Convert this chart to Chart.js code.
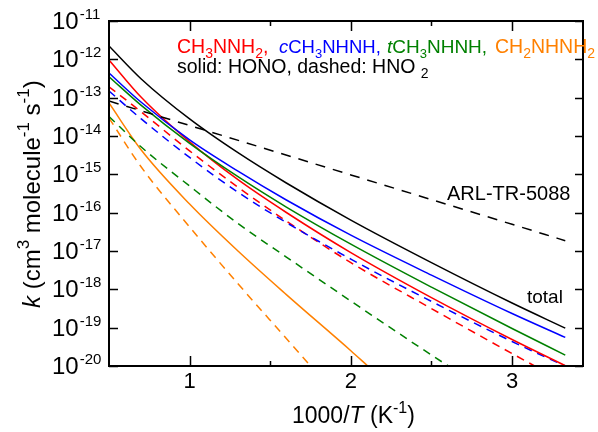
<!DOCTYPE html>
<html>
<head>
<meta charset="utf-8">
<script src="https://cdn.jsdelivr.net/npm/chart.js@4"></script>
<style>
  html, body { margin: 0; padding: 0; background: #fff; }
  canvas { display: block; }
</style>
</head>
<body>
<canvas id="chart" width="598" height="432"></canvas>
<script>
const FONT = '"Liberation Sans", Arial, Helvetica, sans-serif';
const RED = '#ff0000', BLUE = '#0000ff', GREEN = '#008000', ORANGE = '#ff8000';

// 1000/T (K^-1) grid the curves were read on
const xAll = [0.5, 0.7, 1.0, 1.3, 1.6, 2.0, 2.5, 3.0, 3.33];

// k (cm3 molecule-1 s-1), solid = HONO channel
const totalK = [2.23e-12, 3.08e-13, 2.79e-14, 3.66e-15, 5.94e-16, 6.40e-17, 4.98e-18, 4.40e-19, 9.73e-20];
const ch3nnh2Hono = [9.62e-13, 1.02e-13, 7.02e-15, 7.24e-16, 1.01e-16, 9.08e-18, 6.08e-19, 4.91e-20, 1.02e-20];
const cCh3nhnhHono = [4.40e-13, 7.57e-14, 7.91e-15, 1.21e-15, 2.14e-16, 2.59e-17, 2.35e-18, 2.34e-19, 5.56e-20];
const tCh3nhnhHono = [3.52e-13, 6.28e-14, 6.41e-15, 8.67e-16, 1.40e-16, 1.51e-17, 1.14e-18, 9.51e-20, 1.92e-20];

// dashed = HNO2 channel
const xRedDash = [0.5, 0.7, 1.0, 1.3, 1.6, 2.0, 2.5, 3.0, 3.14];
const ch3nnh2Hno2 = [1.93e-13, 4.26e-14, 4.08e-15, 4.61e-16, 6.05e-17, 4.98e-18, 3.14e-19, 2.11e-20, 1.0e-20];
const cCh3nhnhHno2 = [1.49e-13, 2.79e-14, 2.76e-15, 3.41e-16, 5.53e-17, 6.14e-18, 4.84e-19, 4.35e-20, 1.0e-20];

const xGreenDash = [0.5, 0.7, 1.0, 1.3, 1.6, 2.0, 2.5, 2.605];
const tCh3nhnhHno2 = [3.23e-14, 5.16e-15, 4.95e-16, 5.21e-17, 6.97e-18, 4.95e-19, 1.93e-20, 1.0e-20];

const xOrange = [0.5, 0.7, 1.0, 1.3, 1.6, 2.0, 2.105];
const ch2nhnh2Hono = [7.26e-14, 4.31e-15, 1.68e-16, 9.98e-18, 7.28e-19, 2.50e-20, 1.0e-20];

const xOrangeDash = [0.5, 0.7, 1.0, 1.3, 1.6, 1.75];
const ch2nhnh2Hno2 = [2.94e-14, 1.55e-15, 4.23e-17, 1.40e-18, 5.21e-20, 1.0e-20];

// ARL-TR-5088 estimate
const xArl = [0.5, 1.0, 2.0, 3.0, 3.33];
const arlK = [8.18e-14, 1.88e-14, 9.66e-16, 4.97e-17, 1.86e-17];

const xTicks = [1, 2, 3];
const xMinorTicks = [1.5, 2.5];
const yExponents = [-11, -12, -13, -14, -15, -16, -17, -18, -19, -20];

function pts(xs, ys) {
    return xs.map((x, i) => ({ x: x, y: ys[i] }));
}

function line(xs, ys, color, dash) {
    return {
        data: pts(xs, ys),
        borderColor: color,
        borderWidth: 1.5,
        borderDash: dash || [],
        pointRadius: 0,
        fill: false,
        cubicInterpolationMode: 'monotone'
    };
}

// draws a run of text pieces, some sub/superscript or italic
function drawParts(ctx, x, y, parts, size) {
    parts.forEach(p => {
        const small = p.sub || p.sup;
        const s = small ? Math.round(size * 0.7) : size;
        ctx.font = (p.it ? 'italic ' : '') + s + 'px ' + FONT;
        ctx.fillStyle = p.c || '#000';
        const dy = p.sub ? size * 0.25 : p.sup ? -size * 0.45 : 0;
        ctx.fillText(p.t, x, y + dy);
        x += ctx.measureText(p.t).width;
    });
    return x;
}

const frame = {
    id: 'frame',
    afterDraw(chart) {
        const ctx = chart.ctx;
        const a = chart.chartArea;
        const xs = chart.scales.x, ys = chart.scales.y;
        ctx.save();
        ctx.strokeStyle = '#000';
        ctx.lineWidth = 2;
        ctx.strokeRect(a.left, a.top, a.right - a.left, a.bottom - a.top);

        ctx.lineWidth = 1.5;
        ctx.beginPath();
        xTicks.forEach(v => {
            const px = Math.round(xs.getPixelForValue(v)) + 0.5;
            ctx.moveTo(px, a.bottom); ctx.lineTo(px, a.bottom - 10);
            ctx.moveTo(px, a.top); ctx.lineTo(px, a.top + 10);
        });
        xMinorTicks.forEach(v => {
            const px = Math.round(xs.getPixelForValue(v)) + 0.5;
            ctx.moveTo(px, a.bottom); ctx.lineTo(px, a.bottom - 5);
            ctx.moveTo(px, a.top); ctx.lineTo(px, a.top + 5);
        });
        yExponents.forEach(e => {
            const py = Math.round(ys.getPixelForValue(Math.pow(10, e))) + 0.5;
            ctx.moveTo(a.left, py); ctx.lineTo(a.left + 9, py);
            ctx.moveTo(a.right, py); ctx.lineTo(a.right - 8, py);
        });
        ctx.stroke();

        // y tick labels 10^e
        ctx.textAlign = 'left';
        ctx.textBaseline = 'alphabetic';
        ctx.fillStyle = '#000';
        yExponents.forEach(e => {
            const py = ys.getPixelForValue(Math.pow(10, e));
            ctx.font = '24px ' + FONT;
            ctx.fillText('10', 52, py + 8);
            const w = ctx.measureText('10').width;
            ctx.font = '15px ' + FONT;
            ctx.fillText(String(e), 52 + w + 1, py - 2);
        });

        // x tick labels
        ctx.textAlign = 'center';
        ctx.font = '22px ' + FONT;
        xTicks.forEach(v => {
            ctx.fillText(String(v), xs.getPixelForValue(v), 388);
        });

        ctx.textAlign = 'left';
        drawParts(ctx, 292, 423, [
            { t: '1000/' }, { t: 'T', it: true }, { t: ' (K' }, { t: '-1', sup: true }, { t: ')' }
        ], 23);

        ctx.save();
        ctx.translate(40, 308);
        ctx.rotate(-Math.PI / 2);
        drawParts(ctx, 0, 0, [
            { t: 'k', it: true }, { t: ' (cm' }, { t: '3', sup: true }, { t: ' molecule' },
            { t: '-1', sup: true }, { t: ' s' }, { t: '-1', sup: true }, { t: ')' }
        ], 24);
        ctx.restore();

        // species key, one colour per species
        drawParts(ctx, 177, 53, [
            { t: 'CH', c: RED }, { t: '3', sub: true, c: RED }, { t: 'NNH', c: RED }, { t: '2', sub: true, c: RED }, { t: ',', c: RED }
        ], 19.5);
        drawParts(ctx, 279, 53, [
            { t: 'c', it: true, c: BLUE }, { t: 'CH', c: BLUE }, { t: '3', sub: true, c: BLUE }, { t: 'NHNH,', c: BLUE }
        ], 18.5);
        drawParts(ctx, 387, 53, [
            { t: 't', it: true, c: GREEN }, { t: 'CH', c: GREEN }, { t: '3', sub: true, c: GREEN }, { t: 'NHNH,', c: GREEN }
        ], 19);
        drawParts(ctx, 495, 53, [
            { t: 'CH', c: ORANGE }, { t: '2', sub: true, c: ORANGE }, { t: 'NHNH', c: ORANGE }, { t: '2', sub: true, c: ORANGE }
        ], 19.5);
        drawParts(ctx, 177, 73, [{ t: 'solid: HONO, dashed: HNO ' }, { t: '2', sub: true }], 19.5);

        ctx.font = '20px ' + FONT;
        ctx.fillStyle = '#000';
        ctx.fillText('ARL-TR-5088', 447, 200);
        ctx.font = '19px ' + FONT;
        ctx.fillText('total', 527, 303);
        ctx.restore();
    }
};

new Chart(document.getElementById('chart'), {
    type: 'line',
    data: {
        datasets: [
            line(xAll, totalK, '#000'),
            line(xArl, arlK, '#000', [10, 8]),
            line(xAll, cCh3nhnhHono, BLUE),
            line(xAll, tCh3nhnhHono, GREEN),
            line(xAll, ch3nnh2Hono, RED),
            line(xAll, cCh3nhnhHno2, BLUE, [8, 6]),
            line(xRedDash, ch3nnh2Hno2, RED, [8, 6]),
            line(xGreenDash, tCh3nhnhHno2, GREEN, [8, 6]),
            line(xOrange, ch2nhnh2Hono, ORANGE),
            line(xOrangeDash, ch2nhnh2Hno2, ORANGE, [8, 6])
        ]
    },
    options: {
        responsive: false,
        animation: false,
        devicePixelRatio: 1,
        layout: { padding: { left: 109, top: 21, right: 15, bottom: 66 } },
        plugins: { legend: { display: false }, tooltip: { enabled: false } },
        scales: {
            x: { type: 'linear', min: 0.5, max: 3.44, display: false },
            y: { type: 'logarithmic', min: 1e-20, max: 1e-11, display: false }
        }
    },
    plugins: [frame]
});
</script>
</body>
</html>
